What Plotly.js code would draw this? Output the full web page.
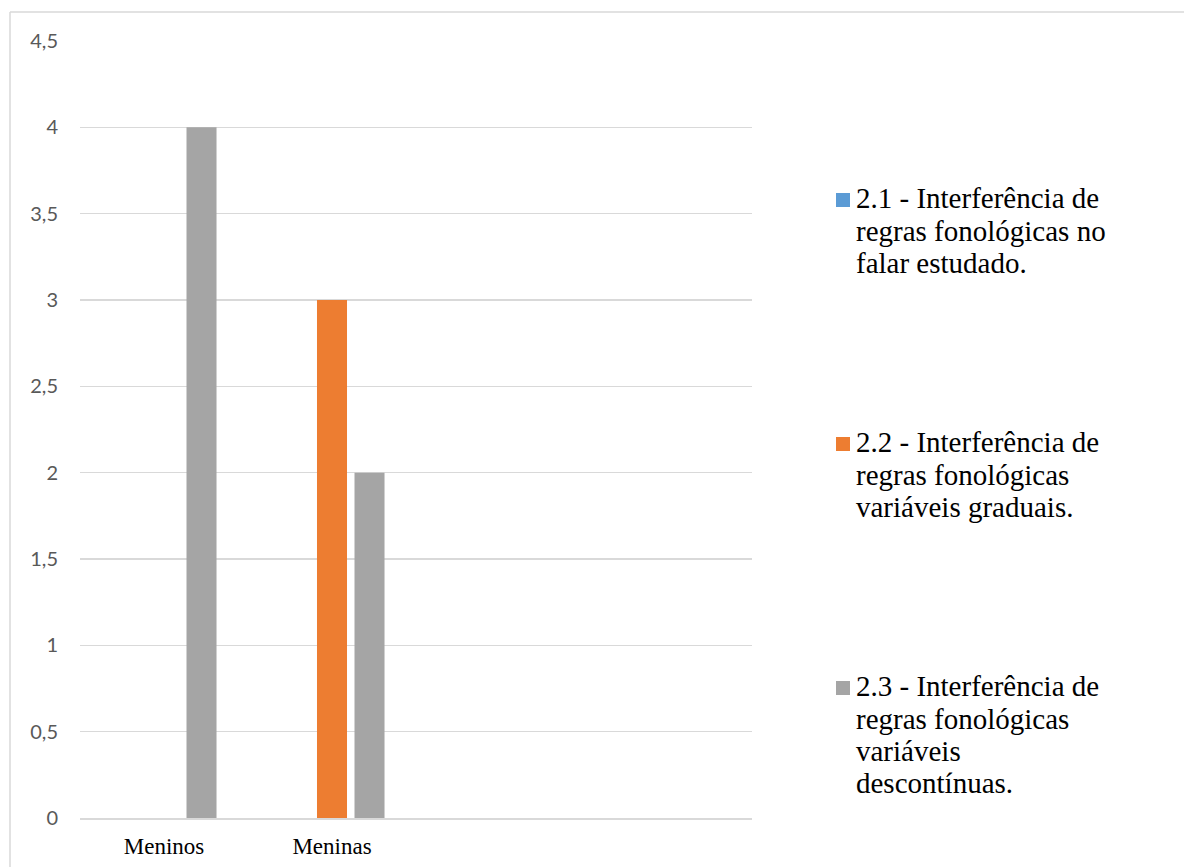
<!DOCTYPE html>
<html>
<head>
<meta charset="utf-8">
<script src="https://cdn.plot.ly/plotly-3.0.1.min.js"></script>
<style>html,body{margin:0;padding:0;background:#fff;}#chart{width:1184px;height:867px;}</style>
</head>
<body>
<div id="chart"></div>
<script>
const categories = ["Meninos", "Meninas"];
const seriesNames = [
  "2.1 - Interferência de regras fonológicas no falar estudado.",
  "2.2 - Interferência de regras fonológicas variáveis graduais.",
  "2.3 - Interferência de regras fonológicas variáveis descontínuas."
];
const legendLines = [
  ["2.1 - Interferência de", "regras fonológicas no", "falar estudado."],
  ["2.2 - Interferência de", "regras fonológicas", "variáveis graduais."],
  ["2.3 - Interferência de", "regras fonológicas", "variáveis", "descontínuas."]
];
const s21 = [0, 0];
const s22 = [0, 3];
const s23 = [4, 2];
const seriesValues = [s21, s22, s23];
const colors = ["#5b9bd5", "#ed7d31", "#a5a5a5"];
const yTicks = [0, 0.5, 1, 1.5, 2, 2.5, 3, 3.5, 4, 4.5];
const yTickText = ["0", "0,5", "1", "1,5", "2", "2,5", "3", "3,5", "4", "4,5"];

// layout geometry (pixels)
const L = 80, R = 752, T = 41, B = 818;
const W = 1184, H = 867;
const px = v => (v - L) / (R - L);
const py = v => (B - v) / (B - T);

const traces = seriesValues.map((vals, i) => ({
  type: "bar",
  name: seriesNames[i],
  x: categories,
  y: vals,
  marker: { color: colors[i] },
  showlegend: false,
  hoverinfo: "x+y+name"
}));

const serif = "'Liberation Serif', 'Times New Roman', serif";
const annotations = [];
const shapes = [];
const baselines = [208, 452, 696];
const lineGap = 32.4;
legendLines.forEach((lines, i) => {
  lines.forEach((t, j) => {
    const center = baselines[i] + j * lineGap - 9.8;
    annotations.push({
      xref: "paper", yref: "paper",
      x: px(854), y: py(center),
      xanchor: "left", yanchor: "middle",
      text: t, showarrow: false,
      font: { family: serif, size: 29, color: "#000000" }
    });
  });
  shapes.push({
    type: "rect", xref: "paper", yref: "paper",
    x0: px(836), x1: px(850),
    y0: py(baselines[i] - 1), y1: py(baselines[i] - 15),
    fillcolor: colors[i], line: { width: 0 }
  });
});
// chart outer border (top and left visible)
shapes.push({ type: "line", xref: "paper", yref: "paper",
  x0: px(10), x1: px(1300), y0: py(12), y1: py(12),
  line: { color: "#d9d9d9", width: 1.5 } });
shapes.push({ type: "line", xref: "paper", yref: "paper",
  x0: px(10), x1: px(10), y0: py(12), y1: py(1000),
  line: { color: "#d9d9d9", width: 1.5 } });

const layout = {
  width: W, height: H,
  margin: { l: L, r: W - R, t: T, b: H - B, pad: 0 },
  paper_bgcolor: "#ffffff",
  plot_bgcolor: "#ffffff",
  barmode: "group",
  bargap: 0.33,
  bargroupgap: 0.2,
  showlegend: false,
  xaxis: {
    type: "category",
    range: [-0.5, 3.5],
    showgrid: false,
    showline: true,
    linecolor: "#d9d9d9",
    linewidth: 1.5,
    ticks: "",
    ticklabelstandoff: 7,
    tickfont: { family: serif, size: 23, color: "#000000" },
    fixedrange: true
  },
  yaxis: {
    range: [0, 4.5],
    tickvals: yTicks,
    ticktext: yTickText,
    showgrid: true,
    gridcolor: "#d9d9d9",
    gridwidth: 1.5,
    zeroline: false,
    showline: false,
    ticks: "",
    ticklabelstandoff: 21,
    tickfont: { family: "Lato, 'Open Sans', sans-serif", size: 20, color: "#595959" },
    fixedrange: true
  },
  annotations: annotations,
  shapes: shapes
};

Plotly.newPlot("chart", traces, layout, { displayModeBar: false, staticPlot: true });
</script>
</body>
</html>
